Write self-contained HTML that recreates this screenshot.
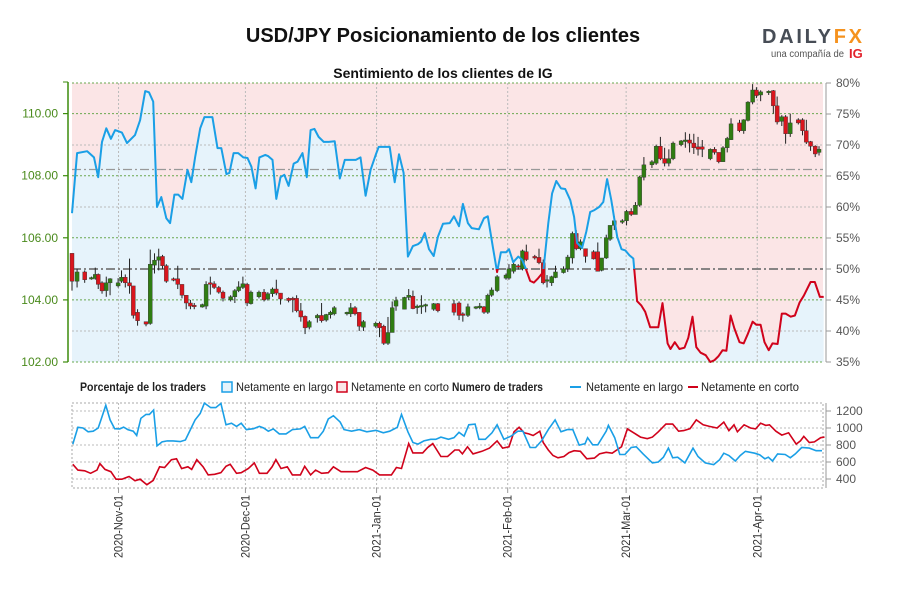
<!DOCTYPE html>
<html><head><meta charset="utf-8">
<style>
html,body{margin:0;padding:0;background:#fff;width:900px;height:600px;overflow:hidden}
svg{display:block;font-family:"Liberation Sans",sans-serif}
.nar{font-family:"Liberation Sans Narrow","Liberation Sans",sans-serif}
</style></head>
<body>
<svg id="chart" width="900" height="600" viewBox="0 0 900 600" xmlns="http://www.w3.org/2000/svg">
<text x="443" y="42" text-anchor="middle" font-size="20" font-weight="bold" fill="#111">USD/JPY Posicionamiento de los clientes</text>
<g>
<text x="762" y="43" font-size="20" font-weight="bold" textLength="100" lengthAdjust="spacing" fill="#474d56">DAILY<tspan fill="#f5921e">FX</tspan></text>
<text x="771" y="57" font-size="10" textLength="73" lengthAdjust="spacingAndGlyphs" fill="#555">una compañía de</text>
<text x="849" y="58" font-size="13" font-weight="bold" fill="#e2222b">IG</text>
</g>
<text x="443" y="78" text-anchor="middle" font-size="14" font-weight="bold" fill="#111">Sentimiento de los clientes de IG</text>
<g id="main"></g>
<g id="legend" class="nar" font-size="12" fill="#222">
<text x="80" y="391" font-weight="bold" textLength="126" lengthAdjust="spacingAndGlyphs">Porcentaje de los traders</text>
<rect x="222" y="382" width="10" height="10" fill="#e6f3fb" stroke="#1a9fe6" stroke-width="1.5"/>
<text x="236" y="391" textLength="97" lengthAdjust="spacingAndGlyphs">Netamente en largo</text>
<rect x="337" y="382" width="10" height="10" fill="#fbe5e6" stroke="#d0021b" stroke-width="1.5"/>
<text x="351" y="391" textLength="98" lengthAdjust="spacingAndGlyphs">Netamente en corto</text>
<text x="452" y="391" font-weight="bold" textLength="91" lengthAdjust="spacingAndGlyphs">Numero de traders</text>
<line x1="570" y1="387" x2="581" y2="387" stroke="#1a9fe6" stroke-width="2"/>
<text x="586" y="391" textLength="97" lengthAdjust="spacingAndGlyphs">Netamente en largo</text>
<line x1="688" y1="387" x2="698" y2="387" stroke="#d0021b" stroke-width="2"/>
<text x="701" y="391" textLength="98" lengthAdjust="spacingAndGlyphs">Netamente en corto</text>
</g>
<g id="bottom"></g>
</svg>
<script>
// ---- data ----
const candleDay=[0,1.2,3,4.6,5.5,6.2,7.1,8.1,9,10.9,11.7,12.6,13.6,14.5,15.5,17.5,18.5,19.5,20.5,21.4,22.3,24,25,26,27,28,28.9,30.8,31.7,32.7,33.6,34.7,35.7,37.5,38.5,39.4,40.4,41.4,42.3,44.2,45.4,46.3,47.4,48.3,49.3,51.2,52.2,53.1,54.1,55.1,56.1,58,59,60.1,61.1,62,65,65.9,66.9,67.9,68.9,71.8,72.7,73.7,74.7,75.7,76.6,78.6,79.6,80.6,81.6,82.6,83.6,85.5,86.5,
90.3,91.5,92.4,93.6,95.5,96.4,97.4,98.3,99.2,100.5,102.6,103.3,104.4,105.5,106.5,107.4,109.4,110.4,111.4,112.3,113.4,114.3,116.2,117.2,118.3,119.2,120.2,121.4,123.3,124.3,125.2,126.3,127.2,128.2,130.1,131.1,132.2,133.2,134.2,135.2,137.1,138.1,139.1,140.1,141.1,142.1,144,145,146,147,148,149,150.9,151.9,152.9,153.9,154.9,155.8,157.8,158.8,159.8,160.9,161.8,162.8,164.7,165.8,166.7,167.8,168.7,169.8,171.7,172.7,173.6,174.6,175.7,176.6];
const candleOpen=[105.5,104.6,104.9,104.68,104.69,104.82,104.55,104.3,104.55,104.45,104.6,104.73,104.55,104.45,103.6,103.3,103.24,105.12,105.28,105.4,105.1,104.68,104.68,104.5,104.15,103.9,103.83,103.77,103.8,104.55,104.52,104.4,104.25,104.0,104.1,104.3,104.4,104.5,103.88,104.1,104.25,104.03,104.2,104.35,104.22,104.05,104.05,104.05,103.65,103.47,103.12,103.42,103.5,103.35,103.52,103.55,103.55,103.55,103.75,103.6,103.12,103.15,103.25,103.15,102.6,102.95,103.8,103.7,104.08,104.12,103.75,103.8,103.83,103.7,103.88,
103.88,103.9,103.55,103.5,103.75,103.75,103.78,103.6,104.15,104.3,104.7,104.7,104.92,105.1,105.0,105.55,105.4,105.37,105.2,104.6,104.55,104.72,104.88,105.0,105.35,106.14,105.65,105.65,105.55,105.55,104.95,105.35,105.95,106.4,106.5,106.55,106.85,106.75,107.05,107.95,108.35,108.4,108.95,108.55,108.4,108.55,109.0,109.1,109.15,109.05,108.93,108.93,108.55,108.85,108.75,108.45,108.9,109.16,109.7,109.45,109.78,110.37,110.76,110.6,110.68,110.74,110.25,109.75,109.9,109.35,109.8,109.8,109.45,109.1,108.95,108.75];
const candleHigh=[105.5,105.0,104.95,104.75,105.04,104.85,104.6,104.75,104.7,104.7,104.95,104.82,105.33,104.45,103.7,103.3,105.62,105.5,105.65,105.45,105.15,104.72,105.1,104.5,104.15,104.0,103.9,103.88,104.6,104.75,104.6,104.45,104.3,104.15,104.35,104.6,104.75,104.55,104.3,104.3,104.35,104.25,104.4,104.65,104.22,104.08,104.1,104.15,103.9,103.5,103.35,103.55,103.9,103.55,103.65,103.8,103.62,103.9,103.8,103.6,103.35,103.3,103.3,103.2,103.45,103.95,104.1,104.1,104.35,104.3,103.85,104.15,103.88,103.9,103.9,
104.0,103.95,103.6,103.88,103.8,103.9,103.8,104.2,104.4,104.8,104.85,105.15,105.25,105.15,105.62,105.78,105.45,105.65,105.3,104.8,104.78,105.1,105.08,105.45,106.2,106.25,105.95,105.65,105.6,105.85,105.35,106.1,106.4,106.7,106.6,106.9,106.95,107.15,108.0,108.6,108.5,109.0,109.25,108.9,108.85,109.1,109.15,109.4,109.35,109.35,109.25,109.15,108.88,108.92,108.75,108.95,109.25,109.85,109.8,109.82,110.4,110.95,110.85,110.75,110.75,110.76,110.55,109.95,109.95,110.0,109.85,109.85,109.8,109.12,108.98,108.95];
const candleLow=[104.3,104.4,104.55,104.65,104.65,104.35,104.2,104.1,104.15,104.4,104.55,104.4,104.2,103.4,103.17,103.15,103.2,104.85,104.95,105.0,104.55,104.6,104.35,104.05,103.7,103.7,103.7,103.75,103.7,104.17,104.35,104.2,103.95,103.95,103.9,104.25,104.35,103.8,103.85,104.05,103.95,103.98,104.1,104.15,103.85,103.92,103.6,103.6,103.3,102.9,103.05,103.27,103.27,103.3,103.4,103.5,103.5,103.45,103.5,103.0,103.0,103.1,102.8,102.55,102.55,102.95,103.65,103.7,104.0,103.7,103.55,103.55,103.6,103.65,103.6,
103.5,103.35,103.3,103.45,103.7,103.7,103.55,103.55,104.1,104.25,104.65,104.65,104.85,104.98,104.95,105.25,105.3,105.15,104.5,104.4,104.45,104.7,104.85,104.9,105.17,105.6,105.6,105.2,105.3,104.92,104.92,105.32,105.9,106.25,106.45,106.4,106.7,106.75,107.0,107.85,108.25,108.35,108.5,108.3,108.3,108.5,108.95,108.9,108.75,108.7,108.65,108.6,108.5,108.68,108.4,108.45,108.75,109.15,109.4,109.35,109.75,110.3,110.5,110.4,110.6,110.0,109.65,109.6,109.03,109.25,109.65,109.3,109.02,108.8,108.6,108.65];
const candleClose=[104.6,104.9,104.65,104.72,104.82,104.5,104.29,104.55,104.68,104.55,104.73,104.55,104.45,103.5,103.33,103.22,105.15,105.28,105.39,105.1,104.6,104.65,104.5,104.15,103.9,103.8,103.78,103.85,104.5,104.52,104.4,104.25,104.05,104.1,104.3,104.42,104.52,103.9,104.25,104.25,104.0,104.2,104.35,104.22,104.03,103.98,104.0,103.65,103.45,103.1,103.3,103.5,103.33,103.53,103.6,103.75,103.6,103.75,103.55,103.15,103.3,103.25,103.1,102.6,102.95,103.75,103.98,104.08,104.15,103.72,103.8,103.82,103.85,103.88,103.65,
103.6,103.5,103.5,103.78,103.78,103.8,103.6,104.15,104.32,104.75,104.8,105.0,105.15,105.05,105.58,105.3,105.35,105.2,104.55,104.65,104.75,104.9,105.0,105.38,106.14,105.65,105.87,105.4,105.32,104.92,105.35,106.0,106.4,106.55,106.55,106.85,106.75,107.05,107.96,108.35,108.45,108.95,108.55,108.4,108.55,109.05,109.12,109.15,109.05,108.9,108.85,108.85,108.85,108.75,108.45,108.9,109.2,109.67,109.45,109.8,110.37,110.76,110.58,110.7,110.72,110.25,109.73,109.9,109.35,109.7,109.7,109.45,109.08,108.95,108.7,108.85];
const sentDay=[0,1.2,3.6,5.2,6.2,7.1,8.1,9.2,10.2,11.8,13.0,14.9,16.1,17.3,18.2,19.2,20.1,21.1,22.3,23.2,24.2,25.1,26.1,27.3,28.2,29.1,30.3,31.3,33.2,34.4,35.3,36.5,37.2,38.2,39.3,40.5,41.5,42.4,43.4,44.3,45.7,46.4,47.4,48.3,49.3,50.2,51.2,52.4,53.3,54.5,55.5,56.4,57.3,58.3,59.5,60.7,62.1,63.3,64.5,67.1,68.2,69.4,70.6,71.8,72.5,75.1,76.3,77.3,78.4,79.4,80.6,81.8,82.5,83.4,84.4,85.5,86.5,87.7,89.3,90.3,91.5,92.4,93.6,94.5,96.2,97.4,98.3,99.5,100.5,101.4,102.6,103.3,104.3,105.5,106.4,107.3,108.3,109.2,110.2,111.4,112.6,113.5,114.5,115.6,116.6,117.8,118.7,119.4,120.6,121.6,122.5,123.5,124.6,125.6,126.5,127.5,128.9,129.9,130.8,131.8,132.7,133.6,134.6,135.5,136.7,138.6,139.6,140.8,141.5,142.5,143.6,144.8,145.7,146.7,147.6,148.6,149.8,150.9,151.9,152.8,153.8,154.7,155.7,156.6,157.8,158.8,159.7,160.9,161.8,162.8,163.7,164.7,165.6,166.8,167.8,168.7,169.9,170.9,172.0,173.0,174.6,175.6,176.8,177.7];
const sentLong=[59,68.7,69,68,64.8,70.5,72.7,71,72.4,72,70.3,71.6,74,78.7,78.5,77,60,61.6,58.2,57.4,62,62,61.3,66,64,68,72.7,74.5,74.5,69.5,69.5,65.3,65.5,68.7,68.7,68,67.9,66.5,63,68,68.4,68.2,67.6,61.3,64.8,65.2,63.4,67,67.3,68.7,64.8,72.4,72.6,71.3,70.5,70.5,70.6,64.6,67.6,67.6,68,61.8,66,68.4,69.7,69.7,64,68.5,65.5,52,53.7,54,54.4,55.8,53.2,52.1,55.2,57.3,57.4,58.5,56.9,60.5,57.4,56.6,56.4,58.2,58.5,53.5,49.5,52.7,52.7,53.2,51.1,52,51.5,50,48.1,47.8,48.5,49.5,57.4,62.2,64.2,63,62.9,61.1,58.4,54.2,53.4,56.1,59.2,59.5,60,60.8,64.5,61.1,55.2,53.2,53,52.2,51.7,44.8,44.1,43.1,40.6,40.6,44.5,38,37.1,38.2,37.1,37.3,38.9,42.3,37.4,36.5,36.1,35,35.3,35.9,36.9,36.8,42.5,40.4,38.2,38,39.4,41.5,41,41,38.2,36.9,38,37.9,42.8,42.8,42.3,42.5,44.6,45.7,47.9,47.9,45.5,45.5];
const longDay=[0.2,1.4,2.6,3.8,5,6.2,7.1,8,9,10.1,11.3,12.2,13.2,14.5,15.3,16.3,17.5,18.3,19.3,20.1,21.3,22.5,23.9,25.6,26.8,28,29.1,30.3,31.3,32.8,34,35.2,36.4,37.7,38.9,40,41.2,42.9,44.3,45.3,46.4,47.6,49,50.6,52.1,54,55,56.4,58.2,59.4,60.6,61.8,63.4,64.3,66.1,67.9,69.7,71.9,73.6,75.1,76.9,77.9,79.4,80.6,81.8,83.2,84.8,86,87.2,89,90.3,91.5,92.7,93.8,95.3,96.2,97.7,99.3,100.5,102.1,103.8,105.4,106.6,108.3,109.6,111,112.6,114.2,115.6,117.1,118.4,119.9,121.3,121.9,123.1,124.3,126.3,126.8,128.3,129.5,130.7,132.2,133.4,135,137.2,138.6,139.8,141,142,143.2,144.9,146.8,148,149.7,151.7,153.1,154.1,155.3,156.8,158,159.2,161.4,162.6,163.8,164.6,165.6,166.8,168.6,169.8,171,172.5,174.3,175.9,177.3];
const longCount=[810,1008,1000,955,962,1000,1133,1267,1095,992,990,1011,981,962,912,1114,1160,1160,1210,790,836,848,848,840,859,981,1095,1171,1293,1240,1240,1290,1038,1057,1019,1057,981,992,1019,1000,962,989,931,931,981,989,1019,886,886,962,1107,1145,1069,981,962,981,955,973,943,962,1008,1160,955,829,810,848,867,867,893,867,886,950,905,1038,1046,867,867,943,1038,867,905,962,962,771,771,848,981,1095,955,981,981,798,817,886,802,802,962,1030,886,688,688,771,779,695,589,600,657,764,650,657,589,764,665,589,570,627,703,676,612,676,726,703,684,638,657,612,695,688,650,695,771,764,733,733];
const shortDay=[0.2,1.4,3,4.4,5.9,6.6,7.8,9.2,10.4,11.8,13.5,14.9,16.1,17.7,19.2,20.7,21.9,23.5,24.7,25.9,27.4,28.3,29.5,31,32.2,33.7,35.2,36.4,37.4,38.9,40,41.7,43.1,44.3,46.1,47.3,48.2,49.4,50.9,52.1,54,55,56.4,57.6,59,60.6,61.8,63.6,65.4,67.5,69.4,71.1,72.7,74.5,75.5,76.7,77.9,79.6,80.6,82.9,84.1,85.3,87.2,88.8,90.5,91.5,92.3,93.5,94.8,96.9,98.7,100.5,101.8,103.3,104.5,105.7,106.9,108,109,110.6,111.4,112.6,113.7,114.9,116.3,117.5,118.7,120.2,121.7,123.5,124.7,126.3,127.7,129.9,131.3,132.8,134.4,136,137.2,138.6,140.4,142,143.4,144.6,146.1,147.6,149.2,150.7,152.5,154.1,155.3,156.5,157.3,158.9,160.4,161.6,162.8,164,164.9,166.4,167.8,169.4,171.2,172.2,173,174.3,175.5,177,177.9];
const shortCount=[573,505,497,467,505,581,513,486,398,398,429,379,398,333,383,543,535,627,638,524,543,513,627,543,448,455,474,550,573,467,474,524,589,467,467,543,627,524,543,448,448,550,448,505,467,474,543,486,486,486,535,505,448,448,448,535,524,817,707,707,771,817,665,665,741,741,695,779,695,726,764,848,764,779,955,1008,943,931,912,962,829,741,676,650,665,710,733,726,638,646,695,714,703,779,989,943,893,874,893,955,1046,1046,962,970,992,1095,1038,1019,1000,1069,970,1038,955,1038,1000,989,1057,1030,1038,962,916,943,810,848,901,829,836,886,893];
const priceTicks=[102,104,106,108,110];
const pctTicks=[35,40,45,50,55,60,65,70,75,80];
const countTicks=[400,600,800,1000,1200];
const monthLabels=["2020-Nov-01","2020-Dec-01","2021-Jan-01","2021-Feb-01","2021-Mar-01","2021-Apr-01"];
const monthDays=[11,41,72,103,131,162];
const lastPrice=108.2;

// ---- scales ----
const X0=72,X1=823,PT=83,PB=362,BT=403,BB=488;
const xS=d=>X0+d*4.23;
const yP=p=>PB-(p-102)*31.05;
const yS=s=>PB-(s-35)*(PB-PT)/45;
const yB=v=>428-(v-1000)*0.085;
const NS="http://www.w3.org/2000/svg";
function mk(tag,attrs,parent){const e=document.createElementNS(NS,tag);for(const k in attrs)e.setAttribute(k,attrs[k]);parent.appendChild(e);return e;}
const main=document.getElementById('main');
const bottom=document.getElementById('bottom');

let el=mk('rect',{x:X0,y:PT,width:X1-X0,height:PB-PT,fill:'#fbe5e6'},main);


let pts=sentDay.map((d,i)=>xS(d).toFixed(1)+','+yS(sentLong[i]).toFixed(1));
el=mk('polygon',{points:xS(sentDay[0])+','+PB+' '+pts.join(' ')+' '+xS(sentDay[sentDay.length-1])+','+PB,fill:'#e6f3fb'},main);



monthDays.forEach((d,i)=>{
  el=mk('line',{x1:xS(d),x2:xS(d),y1:PT,y2:PB,stroke:'#bbb','stroke-dasharray':'2,2','stroke-width':1},main);
  
  
});
[40,60,70].forEach(s=>{
  el=mk('line',{x1:X0,x2:X1,y1:yS(s),y2:yS(s),stroke:'#bbb','stroke-dasharray':'2,2'},main);
  
  
});
priceTicks.concat([111]).forEach(p=>{
  el=mk('line',{x1:X0,x2:X1,y1:p==111?PT:yP(p),y2:p==111?PT:yP(p),stroke:'#6aa84f','stroke-dasharray':'2,2'},main);
  
  
});
el=mk('line',{x1:X0,x2:X1,y1:yP(lastPrice),y2:yP(lastPrice),stroke:'#999','stroke-dasharray':'9,3,2,3','stroke-width':1.3},main);


el=mk('line',{x1:X0,x2:X1,y1:yS(50),y2:yS(50),stroke:'#777','stroke-dasharray':'9,3,2,3','stroke-width':1.8},main);



candleDay.forEach((d,i)=>{
  const o=candleOpen[i],c=candleClose[i],up=c>=o,cx=xS(d);
  const col=up?'#2f7d12':'#d9151d';
  el=mk('line',{x1:cx,x2:cx,y1:yP(candleHigh[i]),y2:yP(candleLow[i]),stroke:'#222','stroke-width':1},main);
  
  
  const top=yP(Math.max(o,c)),h=Math.max(1.5,Math.abs(yP(o)-yP(c)));
  el=mk('rect',{x:cx-2,y:top,width:4,height:h,fill:col,stroke:'#333','stroke-width':0.4},main);
  
  
});

const defs=mk('defs',{},main);
const cb=mk('clipPath',{id:'clipAbove'},defs);mk('rect',{x:0,y:0,width:900,height:yS(50)},cb);
const cr=mk('clipPath',{id:'clipBelow'},defs);mk('rect',{x:0,y:yS(50),width:900,height:600},cr);
el=mk('polyline',{points:pts.join(' '),fill:'none',stroke:'#1a9fe6','stroke-width':2,'clip-path':'url(#clipAbove)','stroke-linejoin':'round'},main);


el=mk('polyline',{points:pts.join(' '),fill:'none',stroke:'#d0021b','stroke-width':2,'clip-path':'url(#clipBelow)','stroke-linejoin':'round'},main);



el=mk('line',{x1:68,x2:68,y1:82,y2:PB,stroke:'#3c8c0c','stroke-width':1.5},main);


priceTicks.forEach(p=>{
  mk('line',{x1:63,x2:68,y1:yP(p),y2:yP(p),stroke:'#3c8c0c','stroke-width':1.2},main);
  el=mk('text',{x:58,y:yP(p)+4,'text-anchor':'end','font-size':12,fill:'#4a8a1c',class:'nar'},main);
  el.textContent=p.toFixed(2);
  
  
});
mk('line',{x1:63,x2:68,y1:82,y2:82,stroke:'#3c8c0c'},main);
el=mk('line',{x1:826,x2:826,y1:PT,y2:PB,stroke:'#999','stroke-width':1},main);


pctTicks.forEach(s=>{
  mk('line',{x1:826,x2:831,y1:yS(s),y2:yS(s),stroke:'#999'},main);
  el=mk('text',{x:836,y:yS(s)+4,'font-size':12,fill:'#555',class:'nar'},main);
  el.textContent=s+'%';
  
  
});

el=mk('rect',{x:X0,y:BT,width:X1-X0,height:BB-BT,fill:'none',stroke:'#aaa','stroke-dasharray':'2,2'},bottom);


countTicks.forEach(v=>{
  el=mk('line',{x1:X0,x2:X1,y1:yB(v),y2:yB(v),stroke:'#bbb','stroke-dasharray':'2,2'},bottom);
  
  
  mk('line',{x1:826,x2:831,y1:yB(v),y2:yB(v),stroke:'#999'},bottom);
  el=mk('text',{x:836,y:yB(v)+4,'font-size':12,fill:'#555',class:'nar'},bottom);
  el.textContent=v;
  
  
});
el=mk('line',{x1:826,x2:826,y1:BT,y2:BB,stroke:'#999'},bottom);


monthDays.forEach((d,i)=>{
  const x=xS(d);
  el=mk('line',{x1:x,x2:x,y1:BT,y2:BB,stroke:'#bbb','stroke-dasharray':'2,2'},bottom);
  
  
  mk('line',{x1:x,x2:x,y1:BB,y2:BB+5,stroke:'#999'},bottom);
  el=mk('text',{x:0,y:0,'font-size':12,fill:'#333','text-anchor':'end',textLength:63,lengthAdjust:'spacingAndGlyphs',class:'nar',transform:'translate('+(x+4)+','+(BB+7)+') rotate(-90)'},bottom);
  el.textContent=monthLabels[i];
  
  
});
el=mk('polyline',{points:shortDay.map((d,i)=>xS(d).toFixed(1)+','+yB(shortCount[i]).toFixed(1)).join(' '),fill:'none',stroke:'#d0021b','stroke-width':1.6},bottom);


el=mk('polyline',{points:longDay.map((d,i)=>xS(d).toFixed(1)+','+yB(longCount[i]).toFixed(1)).join(' '),fill:'none',stroke:'#1a9fe6','stroke-width':1.6},bottom);


</script>
</body></html>
